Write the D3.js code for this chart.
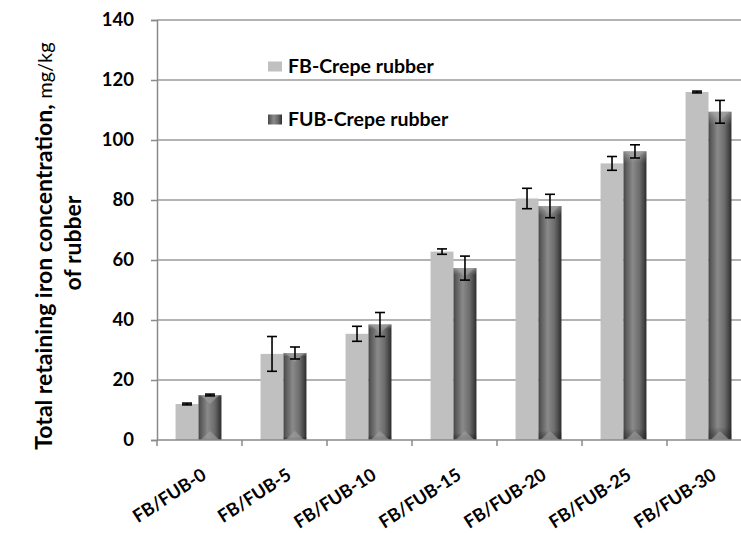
<!DOCTYPE html>
<html>
<head>
<meta charset="utf-8">
<script src="https://cdn.jsdelivr.net/npm/d3@7"></script>
<style>
  html, body { margin: 0; padding: 0; background: #fff; }
  svg { display: block; }
  text { font-family: Lato, "Open Sans", sans-serif; fill: #000; }
</style>
</head>
<body>
<svg id="chart" width="741" height="533"></svg>
<script>
// Total retaining iron concentration per formulation
const categories = ["FB/FUB-0", "FB/FUB-5", "FB/FUB-10", "FB/FUB-15", "FB/FUB-20", "FB/FUB-25", "FB/FUB-30"];
const seriesNames = ["FB-Crepe rubber", "FUB-Crepe rubber"];
const fbValues  = [12.0, 28.7, 35.4, 62.8, 80.5, 92.2, 116.0];
const fbErrors  = [0.3, 5.8, 2.5, 0.9, 3.4, 2.3, 0.3];
const fubValues = [15.0, 29.0, 38.5, 57.3, 78.0, 96.2, 109.4];
const fubErrors = [0.3, 2.0, 4.0, 4.0, 3.9, 2.2, 3.8];
const yTicks = [0, 20, 40, 60, 80, 100, 120, 140];

const svg = d3.select("#chart");
const plotLeft = 157, plotTop = 20, plotBottom = 440, step = 85;

const x0 = d3.scaleBand()
  .domain(categories)
  .range([plotLeft, plotLeft + step * categories.length])
  .paddingInner(0.46)
  .paddingOuter(0.23);
const x1 = d3.scaleBand()
  .domain(seriesNames)
  .range([0, x0.bandwidth()]);
const y = d3.scaleLinear().domain([0, 140]).range([plotBottom, plotTop]);

const data = categories.map((c, i) => ({
  cat: c,
  vals: [
    { s: seriesNames[0], v: fbValues[i], e: fbErrors[i] },
    { s: seriesNames[1], v: fubValues[i], e: fubErrors[i] }
  ]
}));

// Shading for the bevelled dark bars
const defs = svg.append("defs");
const gH = defs.append("linearGradient").attr("id", "fubH").attr("x1", 0).attr("x2", 1).attr("y1", 0).attr("y2", 0);
[[0, "#444444"], [0.1, "#5a5a5a"], [0.4, "#8a8a8a"], [0.7, "#6c6c6c"], [0.88, "#474747"], [1, "#2c2c2c"]]
  .forEach(([o, c]) => gH.append("stop").attr("offset", o).attr("stop-color", c));
const gV = defs.append("linearGradient").attr("id", "fubV").attr("x1", 0).attr("x2", 0).attr("y1", 0).attr("y2", 1);
[[0, "#cfcfcf", 0.5], [0.04, "#bbbbbb", 0], [0.96, "#000", 0], [1, "#222", 0.45]]
  .forEach(([o, c, a]) => gV.append("stop").attr("offset", o).attr("stop-color", c).attr("stop-opacity", a));

// Horizontal gridlines
svg.append("g").selectAll("line")
  .data(yTicks.filter(t => t > 0))
  .join("line")
  .attr("x1", plotLeft).attr("x2", 741)
  .attr("y1", d => y(d)).attr("y2", d => y(d))
  .attr("stroke", "#9a9a9a").attr("stroke-width", 1.5);

// Bars
const groups = svg.append("g").selectAll("g")
  .data(data)
  .join("g")
  .attr("transform", d => `translate(${x0(d.cat) - 1},0)`);

groups.selectAll("rect.bar")
  .data(d => d.vals)
  .join("rect")
  .attr("class", "bar")
  .attr("x", d => x1(d.s))
  .attr("y", d => y(d.v))
  .attr("width", x1.bandwidth())
  .attr("height", d => y(0) - y(d.v))
  .attr("fill", d => d.s === seriesNames[0] ? "#c0c0c0" : "url(#fubH)");

groups.selectAll("rect.shade")
  .data(d => d.vals.filter(v => v.s === seriesNames[1]))
  .join("rect")
  .attr("class", "shade")
  .attr("x", d => x1(d.s))
  .attr("y", d => y(d.v))
  .attr("width", x1.bandwidth())
  .attr("height", d => y(0) - y(d.v))
  .attr("fill", "url(#fubV)");

// Bevel notches at the top and bottom of the dark bars
groups.selectAll("path.notch")
  .data(d => d.vals.filter(v => v.s === seriesNames[1]))
  .join("path")
  .attr("class", "notch")
  .attr("d", d => {
    const bx = x1(d.s), w = x1.bandwidth(), ty = y(d.v), by = y(0);
    return `M${bx + 2},${ty} L${bx + w - 2},${ty} L${bx + w / 2},${ty + 9} Z` +
           `M${bx + 2},${by} L${bx + w - 2},${by} L${bx + w / 2},${by - 9} Z`;
  })
  .attr("fill", "#a0a0a0").attr("opacity", 0.6);

// Error bars
const err = groups.selectAll("g.err")
  .data(d => d.vals)
  .join("g")
  .attr("class", "err")
  .attr("transform", d => `translate(${x1(d.s) + x1.bandwidth() / 2},0)`)
  .attr("stroke", "#000").attr("stroke-width", 1.6);
err.append("line").attr("y1", d => y(d.v + d.e)).attr("y2", d => y(d.v - d.e));
err.append("line").attr("x1", -5).attr("x2", 5).attr("y1", d => y(d.v + d.e)).attr("y2", d => y(d.v + d.e));
err.append("line").attr("x1", -5).attr("x2", 5).attr("y1", d => y(d.v - d.e)).attr("y2", d => y(d.v - d.e));

// Y axis
const yAxis = svg.append("g")
  .attr("transform", `translate(${plotLeft},0)`)
  .call(d3.axisLeft(y).tickValues(yTicks).tickSize(6).tickPadding(17));
yAxis.select(".domain").attr("stroke", "#8a8a8a").attr("stroke-width", 1.5);
yAxis.selectAll(".tick line").attr("stroke", "#8a8a8a").attr("stroke-width", 1.5);
yAxis.selectAll(".tick text")
  .attr("font-size", 18.5).attr("font-weight", "bold")
  .attr("font-family", "Lato, sans-serif").attr("fill", "#000");

// X axis
const xAxis = svg.append("g");
xAxis.append("line")
  .attr("x1", plotLeft).attr("x2", 741)
  .attr("y1", plotBottom).attr("y2", plotBottom)
  .attr("stroke", "#8a8a8a").attr("stroke-width", 1.5);
xAxis.selectAll("line.tk")
  .data(d3.range(categories.length + 1))
  .join("line")
  .attr("class", "tk")
  .attr("x1", i => plotLeft + step * i).attr("x2", i => plotLeft + step * i)
  .attr("y1", plotBottom).attr("y2", plotBottom + 6)
  .attr("stroke", "#8a8a8a").attr("stroke-width", 1.5);

// Slanted category labels, anchored at their right end
const labelX = d => x0(d) + x0.bandwidth() / 2 + 8;
const labelY = plotBottom + 38;
xAxis.selectAll("text.lbl")
  .data(categories)
  .join("text")
  .attr("class", "lbl")
  .attr("x", labelX)
  .attr("y", labelY)
  .attr("transform", d => `rotate(-33 ${labelX(d)} ${labelY})`)
  .attr("text-anchor", "end")
  .attr("font-size", 18).attr("font-weight", "bold")
  .text(d => d);

// Y axis title
const title = svg.append("text")
  .attr("transform", "translate(52,246) rotate(-90)")
  .attr("text-anchor", "middle")
  .attr("font-size", 23).attr("font-weight", "bold");
title.append("tspan").text("Total retaining iron concentration, ");
title.append("tspan").attr("font-size", 20).attr("font-weight", "normal").text("mg/kg");
svg.append("text")
  .attr("transform", "translate(81,243) rotate(-90)")
  .attr("text-anchor", "middle")
  .attr("font-size", 23).attr("font-weight", "bold")
  .text("of rubber");

// Legend
const legend = svg.append("g");
const legendRows = [
  { name: seriesNames[0], fill: "#c0c0c0", ty: 72.5 },
  { name: seriesNames[1], fill: "url(#fubH)", ty: 125.5 }
];
legendRows.forEach(r => {
  legend.append("rect").attr("x", 268).attr("y", r.ty - 11).attr("width", 14).attr("height", 10).attr("fill", r.fill);
  legend.append("text").attr("x", 288).attr("y", r.ty)
    .attr("font-size", 19.5).attr("font-weight", "bold").text(r.name);
});
</script>
</body>
</html>
